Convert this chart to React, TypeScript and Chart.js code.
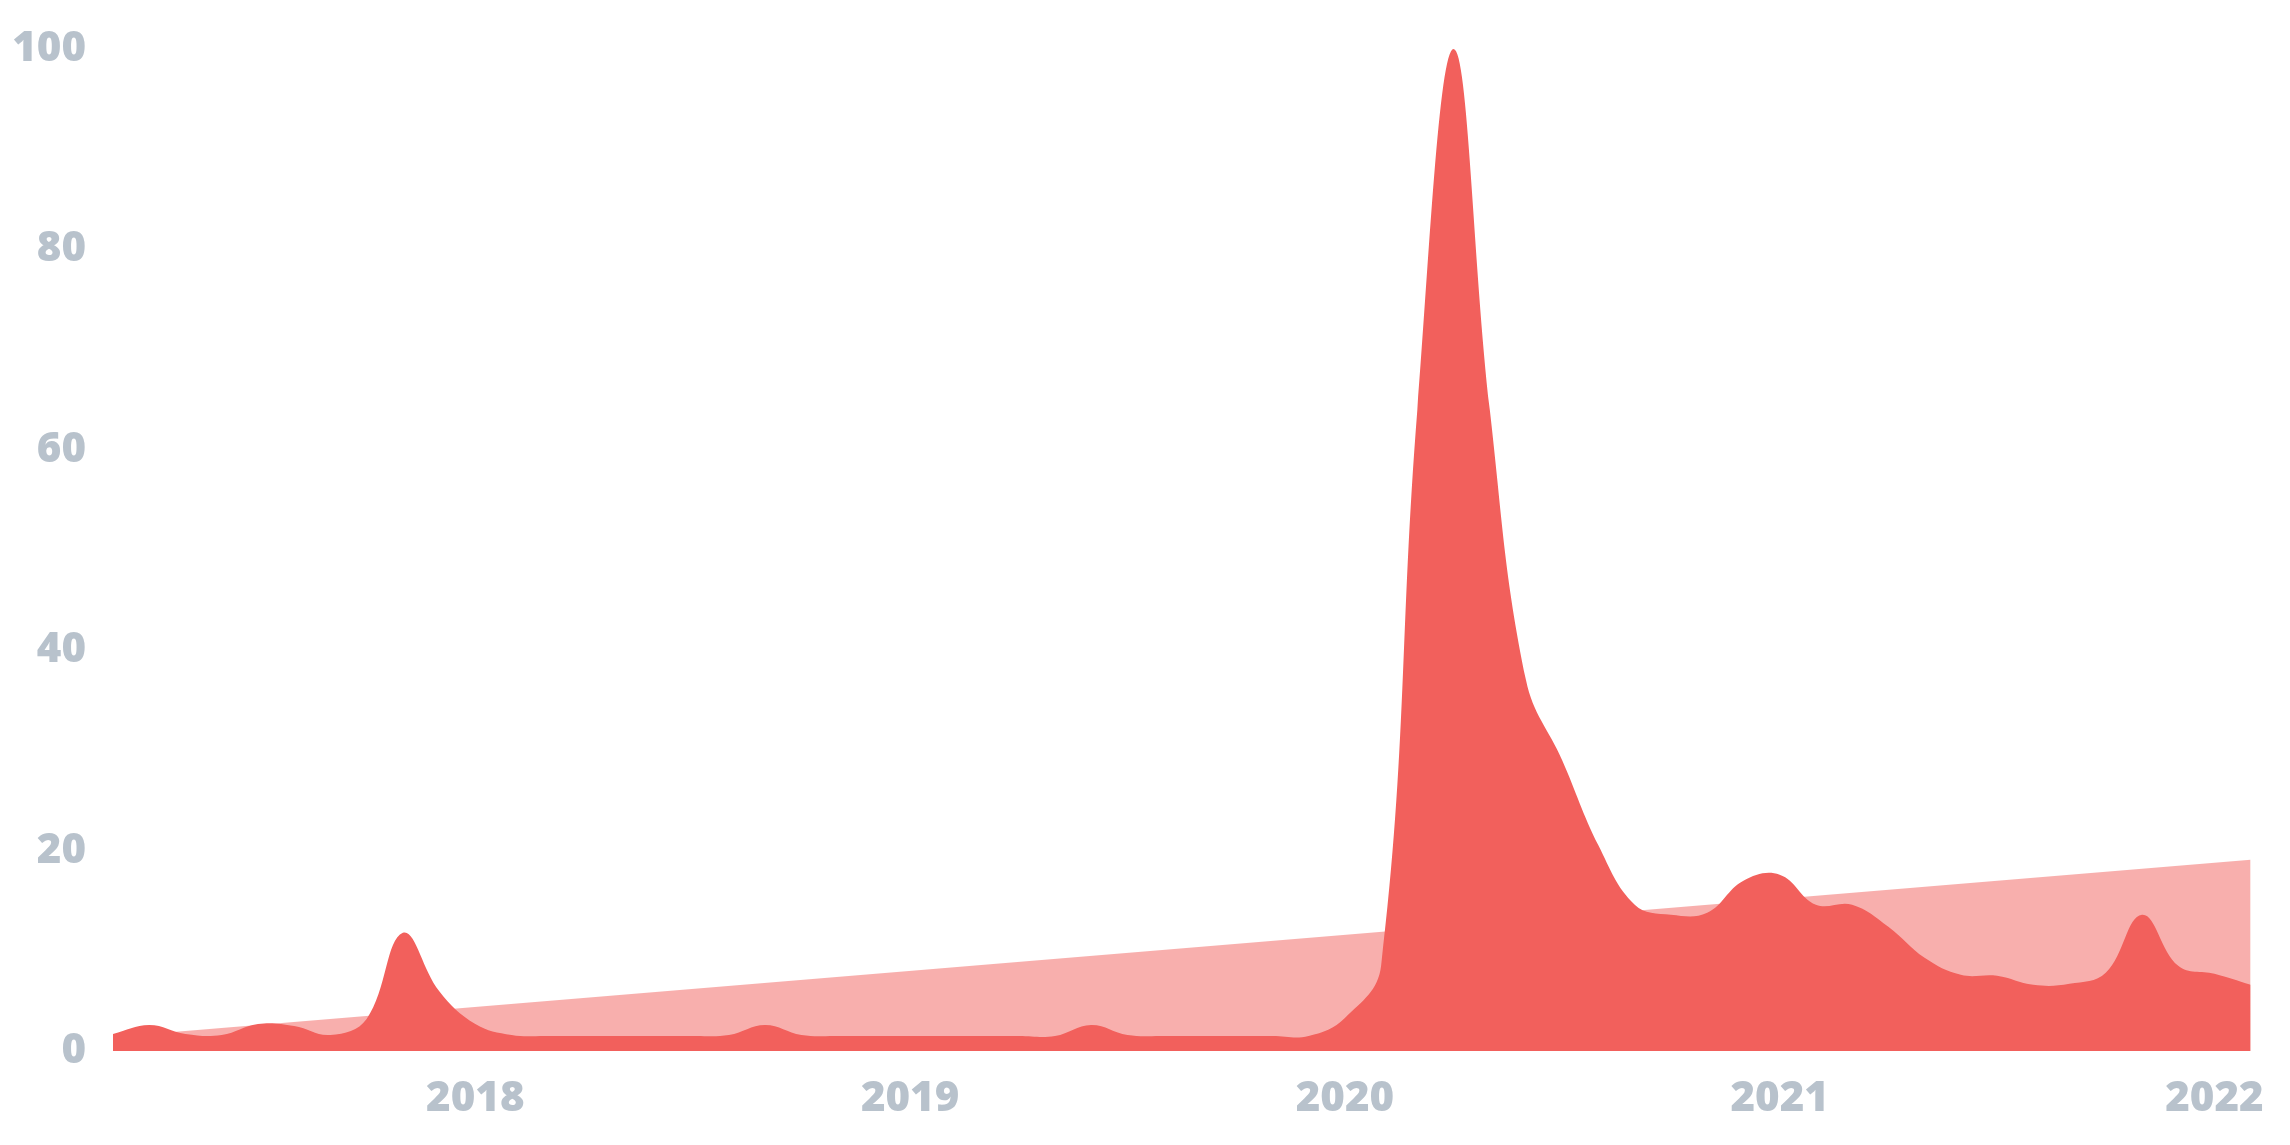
import { useEffect, useRef } from "react";
import { Chart, registerables } from "chart.js";

Chart.register(...registerables);

// monthly search interest, Mar 2017 .. Feb 2022
const months = [
  "2017-03", "2017-04", "2017-05", "2017-06", "2017-07", "2017-08", "2017-09", "2017-10", "2017-11", "2017-12",
  "2018-01", "2018-02", "2018-03", "2018-04", "2018-05", "2018-06", "2018-07", "2018-08", "2018-09", "2018-10", "2018-11", "2018-12",
  "2019-01", "2019-02", "2019-03", "2019-04", "2019-05", "2019-06", "2019-07", "2019-08", "2019-09", "2019-10", "2019-11", "2019-12",
  "2020-01", "2020-02", "2020-03", "2020-04", "2020-05", "2020-06", "2020-07", "2020-08", "2020-09", "2020-10", "2020-11", "2020-12",
  "2021-01", "2021-02", "2021-03", "2021-04", "2021-05", "2021-06", "2021-07", "2021-08", "2021-09", "2021-10", "2021-11", "2021-12",
  "2022-01", "2022-02",
];

const interest = [
  1.7, 2.6, 1.7, 1.6, 2.7, 2.5, 1.6, 3.2, 11.8, 6.0,
  2.7, 1.6, 1.5, 1.5, 1.5, 1.5, 1.5, 1.6, 2.6, 1.6, 1.5, 1.5,
  1.5, 1.5, 1.5, 1.5, 1.5, 2.6, 1.6, 1.5, 1.5, 1.5, 1.5, 1.5,
  3.3, 8.5, 64, 100, 64, 37, 29, 20.5, 14.6, 13.6, 13.8, 17.0,
  17.6, 14.6, 14.6, 12.4, 9.3, 7.6, 7.5, 6.6, 6.7, 7.8, 13.6, 8.5,
  7.7, 6.6,
];

// linear trend, value at first and last month
const trendStart = 1.4;
const trendEnd = 19.1;

const yTicks = [0, 20, 40, 60, 80, 100];
const yearTicks = [2018, 2019, 2020, 2021, 2022];

const RED = "#f2605c";
const PINK = "rgba(242, 96, 92, 0.5)";
const LABEL = "#b8c2cc";

function toYear(m: string) {
  const [y, mo] = m.split("-").map(Number);
  return y + (mo - 1) / 12;
}

export default function App() {
  const canvasRef = useRef<HTMLCanvasElement>(null);

  useEffect(() => {
    if (!canvasRef.current) return;
    const xs = months.map(toYear);
    const first = xs[0];
    const last = xs[xs.length - 1];
    const font = { family: "'Open Sans', sans-serif", size: 42, weight: 800 as any, lineHeight: 1.05 };

    const chart = new Chart(canvasRef.current, {
      type: "line",
      data: {
        datasets: [
          {
            label: "Interest",
            data: xs.map((x, i) => ({ x, y: interest[i] })),
            backgroundColor: RED,
            borderWidth: 0,
            pointRadius: 0,
            tension: 0.4,
            fill: "origin",
          },
          {
            label: "Trend",
            data: [
              { x: first, y: trendStart },
              { x: last, y: trendEnd },
            ],
            backgroundColor: PINK,
            borderWidth: 0,
            pointRadius: 0,
            fill: "origin",
          },
        ],
      },
      options: {
        responsive: true,
        maintainAspectRatio: false,
        animation: false,
        layout: { padding: { left: 0, right: 20, top: 0, bottom: 0 } },
        plugins: { legend: { display: false }, tooltip: { enabled: false } },
        scales: {
          x: {
            type: "linear",
            min: first,
            max: last,
            grid: { display: false, drawTicks: false },
            border: { display: false },
            afterBuildTicks: (scale) => {
              scale.ticks = yearTicks.map((v) => ({ value: v }));
            },
            afterFit: (scale) => {
              scale.height = 94;
            },
            ticks: {
              color: LABEL,
              font,
              padding: 26,
              maxRotation: 0,
              autoSkip: false,
              callback: (v) => String(v),
            },
          },
          y: {
            min: 0,
            max: 100,
            grid: { display: false, drawTicks: false },
            border: { display: false },
            afterBuildTicks: (scale) => {
              scale.ticks = yTicks.map((v) => ({ value: v }));
            },
            afterFit: (scale) => {
              scale.width = 113;
            },
            ticks: {
              color: LABEL,
              font,
              padding: 27,
              callback: (v) => String(v),
            },
          },
        },
      },
    });

    return () => chart.destroy();
  }, []);

  return (
    <div style={{ position: "fixed", left: 0, top: 0, width: 2290, height: 1145, background: "#fff" }}>
      <canvas ref={canvasRef} />
    </div>
  );
}
